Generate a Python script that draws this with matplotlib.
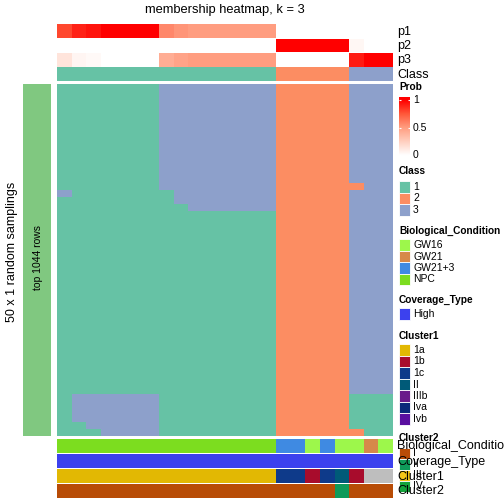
import numpy as np
import matplotlib.pyplot as plt
from matplotlib.colors import LinearSegmentedColormap, to_rgb
from matplotlib.patches import Rectangle

plt.rcParams['font.family'] = ['Liberation Sans', 'DejaVu Sans']

# membership probabilities, one value per sample (23 samples)
p1 = [0.80, 0.90, 0.94, 1.0, 1.0, 1.0, 1.0, 0.58, 0.53, 0.5, 0.5, 0.5, 0.5, 0.5, 0.5,
      0, 0, 0, 0, 0, 0, 0, 0]
p2 = [0, 0, 0, 0, 0, 0, 0, 0, 0, 0, 0, 0, 0, 0, 0,
      1.0, 1.0, 1.0, 1.0, 1.0, 0.04, 0, 0]
p3 = [0.14, 0.05, 0.03, 0, 0, 0, 0, 0.42, 0.47, 0.5, 0.5, 0.5, 0.5, 0.5, 0.5,
      0, 0, 0, 0, 0, 0.92, 1.0, 1.0]
classes = [1, 1, 1, 1, 1, 1, 1, 1, 1, 1, 1, 1, 1, 1, 1, 2, 2, 2, 2, 2, 3, 3, 3]

# class call of every sample in each of the 50 random samplings
samplings = [
    "11111113333333322222333",
    "11111113333333322222333",
    "11111113333333322222333",
    "11111113333333322222333",
    "11111113333333322222333",
    "11111113333333322222333",
    "11111113333333322222333",
    "11111113333333322222333",
    "11111113333333322222333",
    "11111113333333322222333",
    "11111113333333322222333",
    "11111113333333322222333",
    "11111113333333322222333",
    "11111113333333322222333",
    "11111113333333322222233",
    "31111111333333322222333",
    "11111111333333322222333",
    "11111111133333322222333",
    "11111111111111122222333",
    "11111111111111122222333",
    "11111111111111122222333",
    "11111111111111122222333",
    "11111111111111122222333",
    "11111111111111122222333",
    "11111111111111122222333",
    "11111111111111122222333",
    "11111111111111122222333",
    "11111111111111122222333",
    "11111111111111122222333",
    "11111111111111122222333",
    "11111111111111122222333",
    "11111111111111122222333",
    "11111111111111122222333",
    "11111111111111122222333",
    "11111111111111122222333",
    "11111111111111122222333",
    "11111111111111122222333",
    "11111111111111122222333",
    "11111111111111122222333",
    "11111111111111122222333",
    "11111111111111122222333",
    "11111111111111122222333",
    "11111111111111122222333",
    "11111111111111122222333",
    "13333331111111122222111",
    "13333331111111122222111",
    "13333331111111122222111",
    "13333331111111122222111",
    "11333331111111122222111",
    "11133331111111122222211",
]

bio = ["NPC", "NPC", "NPC", "NPC", "NPC", "NPC", "NPC", "NPC", "NPC", "NPC", "NPC", "NPC",
       "NPC", "NPC", "NPC", "GW21+3", "GW21+3", "GW16", "GW21+3", "GW16", "GW16", "GW21", "GW16"]
coverage = ["High"] * 23
cluster1 = ["1a", "1a", "1a", "1a", "1a", "1a", "1a", "1a", "1a", "1a", "1a", "1a", "1a", "1a",
            "1a", "1c", "1c", "1b", "1c", "II", "1b", None, None]
cluster2 = ["I", "I", "I", "I", "I", "I", "I", "I", "I", "I", "I", "I", "I", "I", "I",
            "I", "I", "I", "I", "II", "I", "I", "I"]

class_colors = {1: "#66C2A5", 2: "#FC8D62", 3: "#8DA0CB"}
bio_colors = {"GW16": "#9DF74B", "GW21": "#D6894A", "GW21+3": "#3F8AE2", "NPC": "#7CDD1F"}
coverage_colors = {"High": "#3C41EE"}
cluster1_colors = {"1a": "#E2B803", "1b": "#A80C2C", "1c": "#0E3A8A", "II": "#005A78",
                   "IIIb": "#6A1B8A", "Iva": "#0B2A7A", "Ivb": "#5A0FA0"}
cluster2_colors = {"I": "#B84C06", "II": "#0F9A5A", "III": "#F5C518", "IV": "#12A33A"}

prob_cmap = LinearSegmentedColormap.from_list(
    "prob", [(0, "#FFFFFF"), (0.25, "#FFCFBF"), (0.5, "#FF9E81"), (0.75, "#FF593A"), (1, "#FF0000")])

W = H = 504
fig = plt.figure(figsize=(5.04, 5.04), dpi=100)


# axes placed with pixel coordinates, measured from the top left corner
def box(x0, y0, x1, y1):
    ax = fig.add_axes([x0 / W, 1 - y1 / H, (x1 - x0) / W, (y1 - y0) / H])
    ax.set_axis_off()
    return ax


def color_row(ax, values, colors):
    rgb = np.array([[to_rgb(colors.get(v, "#BEBEBE")) for v in values]])
    ax.imshow(rgb, aspect="auto", interpolation="nearest")


def text(x, y, s, **kw):
    fig.text(x / W, 1 - y / H, s, **kw)


# title
text(225, 10, "membership heatmap, k = 3", ha="center", va="center", fontsize=9.3)

# top annotation: probabilities and class
for i, (name, vals) in enumerate([("p1", p1), ("p2", p2), ("p3", p3)]):
    y0 = 24 + i * 14.5
    ax = box(57, y0, 393, y0 + 13.8)
    ax.imshow([vals], cmap=prob_cmap, vmin=0, vmax=1, aspect="auto", interpolation="nearest")
    text(397, y0 + 7.5, name, va="center", fontsize=9)
ax = box(57, 67, 393, 81.5)
color_row(ax, classes, class_colors)
text(397, 74.5, "Class", va="center", fontsize=9)

# main heatmap
ax = box(57, 84, 393, 436)
rgb = np.array([[to_rgb(class_colors[int(c)]) for c in row] for row in samplings])
ax.imshow(rgb, aspect="auto", interpolation="nearest")

# row annotation and row titles
ax = box(23, 84, 51, 436)
ax.add_patch(Rectangle((0, 0), 1, 1, color="#80C880"))
text(38, 258, "top 1044 rows", rotation=90, ha="center", va="center", fontsize=7.5)
text(12, 252, "50 x 1 random samplings", rotation=90, ha="center", va="center", fontsize=9)

# bottom annotations
bottom = [("Biological_Condition", bio, bio_colors),
          ("Coverage_Type", coverage, coverage_colors),
          ("Cluster1", cluster1, cluster1_colors),
          ("Cluster2", cluster2, cluster2_colors)]
for i, (name, vals, cols) in enumerate(bottom):
    y0 = 439 + i * 15
    ax = box(57, y0, 393, y0 + 14)
    color_row(ax, vals, cols)
    text(397, y0 + 7.5, name, va="center", fontsize=9)

# legends
ax = box(399, 97, 410, 158)
grad = np.linspace(1.054, -0.047, 200)[:, None]
ax.imshow(grad, cmap=prob_cmap, vmin=0, vmax=1, aspect="auto",
          extent=[0, 1, -0.047, 1.054], interpolation="bilinear")
ax.set_ylim(-0.047, 1.054)
ax.set_xlim(0, 1)
ax.hlines([0, 0.5, 1], 0, 0.2, color="white", lw=0.8)
ax.hlines([0, 0.5, 1], 0.8, 1, color="white", lw=0.8)
text(399, 87, "Prob", fontweight="bold", fontsize=7.3, va="center")
for v, lab in [(1, "1"), (0.5, "0.5"), (0, "0")]:
    text(413, 155.4 - 55.4 * v, lab, va="center", fontsize=7.5)


def legend(title, y_title, colors, y_first, step=11.5):
    text(399, y_title, title, fontweight="bold", fontsize=7.3, va="center")
    for i, (lab, col) in enumerate(colors.items()):
        yc = y_first + i * step
        fig.add_artist(Rectangle((399 / W, 1 - (yc + step / 2) / H), 11 / W, step / H,
                                 facecolor=col, edgecolor="white", lw=0.6,
                                 transform=fig.transFigure))
        text(413, yc, str(lab), va="center", fontsize=7.5)


legend("Class", 171, class_colors, 187)
legend("Biological_Condition", 231, bio_colors, 245)
legend("Coverage_Type", 300, coverage_colors, 314)
legend("Cluster1", 336, cluster1_colors, 350)
legend("Cluster2", 438, cluster2_colors, 453, step=11)

fig.savefig("out.png", dpi=100)
